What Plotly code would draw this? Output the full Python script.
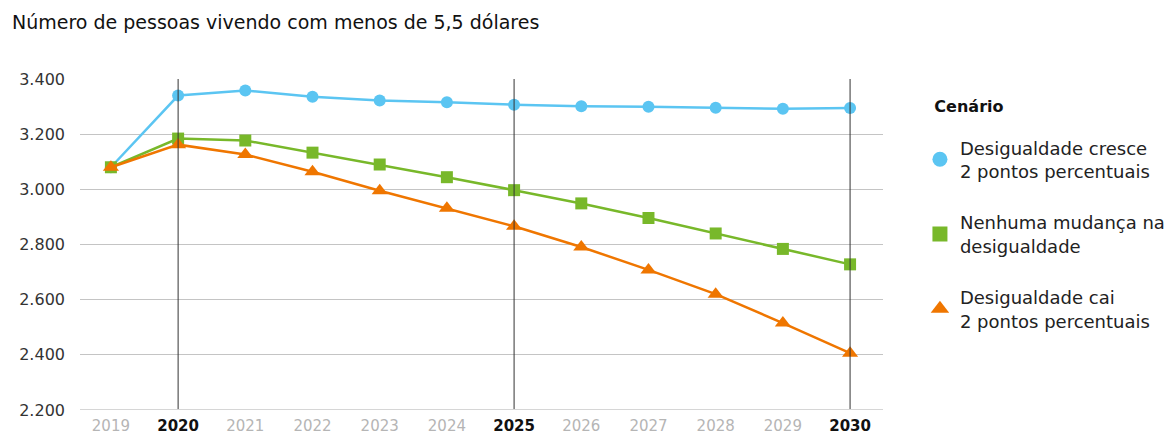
import plotly.graph_objects as go

years = list(range(2019, 2031))
cresce = [3080, 3340, 3358, 3336, 3322, 3316, 3307, 3301, 3299, 3296, 3292, 3295]
nenhuma = [3080, 3184, 3177, 3133, 3090, 3044, 2997, 2949, 2896, 2840, 2784, 2728]
cai = [3080, 3162, 3126, 3064, 2995, 2931, 2866, 2791, 2708, 2620, 2515, 2406]
names = ["Desigualdade cresce<br>2 pontos percentuais",
         "Nenhuma mudança na<br>desigualdade",
         "Desigualdade cai<br>2 pontos percentuais"]
colors = ["#5BC5F2", "#78B82A", "#EF7600"]
symbols = ["circle", "square", "triangle-up"]
msizes = [12, 12, 14]
highlight_years = [2020, 2025, 2030]
yticks = [2200, 2400, 2600, 2800, 3000, 3200, 3400]
title = "Número de pessoas vivendo com menos de 5,5 dólares"

FONT = "DejaVu Sans"
fig = go.Figure()
for vals, name, c, s, ms in zip([cresce, nenhuma, cai], names, colors, symbols, msizes):
    fig.add_trace(go.Scatter(x=years, y=vals, mode="lines+markers", showlegend=False,
                             line=dict(color=c, width=2.5),
                             marker=dict(symbol=s, size=ms, color=c), cliponaxis=False))
for i, (name, c, s) in enumerate(zip(names, colors, symbols)):
    fig.add_trace(go.Scatter(x=[None], y=[None], mode="markers", name=name,
                             legendgroup=str(i),
                             marker=dict(symbol=s, size=15 if s != "triangle-up" else 16, color=c)))

for yr in highlight_years:
    fig.add_shape(type="line", x0=yr, x1=yr, y0=0, y1=1, xref="x", yref="paper",
                  line=dict(color="#333333", width=1), layer="above")

ticktext = [f"<b>{y}</b>" if y in highlight_years else f"<span style='color:#b5b5b5'>{y}</span>"
            for y in years]

fig.update_layout(
    width=1173, height=434,
    margin=dict(l=80, r=290, t=79, b=24, autoexpand=False),
    paper_bgcolor="white", plot_bgcolor="white",
    separators=",.",
    font=dict(family=FONT, color="#222222"),
    xaxis=dict(range=[2018.54, 2030.49], tickvals=years, ticktext=ticktext,
               showgrid=False, zeroline=False, showline=False, ticks="", automargin=False,
               ticklabelstandoff=5,
               tickfont=dict(family=FONT, size=15, color="#111111")),
    yaxis=dict(range=[2200, 3400], tickvals=yticks, tickformat=",d", automargin=False,
               showgrid=True, gridcolor="#c4c4c4", gridwidth=1, zeroline=False,
               showline=False, ticks="", ticklen=0, ticklabelstandoff=14,
               tickfont=dict(family=FONT, size=16, color="#333333")),
    legend=dict(x=1.046, xanchor="left", y=0.95, yanchor="top",
                title=dict(text="&nbsp;&nbsp;&nbsp;<b><span style='font-size:16px'>Cenário</span></b><br>",
                           font=dict(family=FONT, size=13, color="#111111")),
                font=dict(family=FONT, size=18, color="#222222"),
                tracegroupgap=25, traceorder="grouped", itemsizing="trace"),
)
fig.add_annotation(text=title, xref="paper", yref="paper", x=-0.087, y=1.173,
                   xanchor="left", yanchor="middle", showarrow=False,
                   font=dict(family=FONT, size=19, color="#111111"))
fig.add_shape(type="line", x0=0, x1=1, y0=2200, y1=2200, xref="paper", yref="y",
              line=dict(color="#d6d6d6", width=2))
fig.write_html("out.html", config={"displayModeBar": False},
               post_script="document.body.style.margin='0';")
